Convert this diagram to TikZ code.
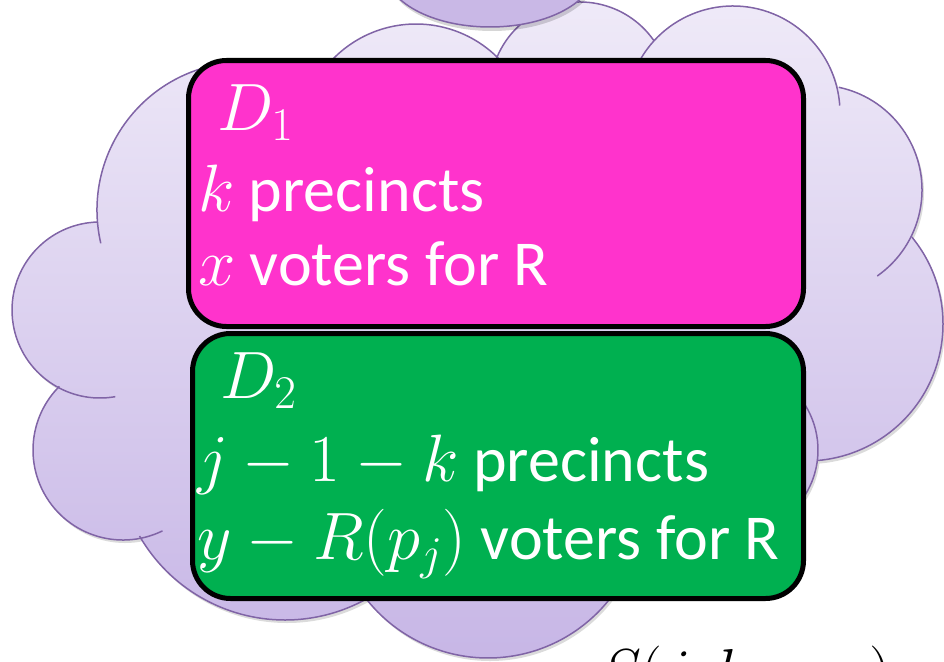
\RequirePackage{fix-cm}
\documentclass[tikz,border=0pt]{standalone}
\usepackage{fontspec}
\setmainfont{Carlito}
\definecolor{pinkfill}{HTML}{FF33CC}
\definecolor{greenfill}{HTML}{00B050}
\definecolor{cloudedge}{RGB}{128,100,166}
\definecolor{cloudtop}{RGB}{239,234,248}
\definecolor{cloudbot}{RGB}{199,182,230}
\definecolor{blobfill}{RGB}{201,184,230}
\newcommand\mth[1]{{\fontsize{67}{76}\selectfont$#1$}}
\newcommand\mthb[1]{{\fontsize{62}{70}\selectfont$#1$}}
\begin{document}
\begin{tikzpicture}[x=1pt,y=-1pt,
  cloudline/.style={draw=cloudedge, line width=1.5pt},
  dbox/.style={draw=black, line width=5pt, rounded corners=38pt, inner sep=0pt, outer sep=0pt},
  txt/.style={text=white, font=\fontsize{64}{76}\selectfont, inner sep=0pt, outer sep=0pt, anchor=base west}]
\path[use as bounding box] (0,0) rectangle (944,661);
\clip (0,0) rectangle (944,661);
\def\cloudlist{245/210/148, 100/310/88, 123/450/90, 285/452/168, 488/503/155, 733/450/85, 806/324/137, 817/190/105, 733/113/107, 580/92/90, 416/140/116, 496/330/250}
% shadow
\fill[black, opacity=0.14, xshift=2pt, yshift=-3pt] foreach \x/\y/\r in \cloudlist {(\x,\y) circle[radius=\r]};
% cloud body
\begin{scope}
\clip foreach \x/\y/\r in \cloudlist {(\x,\y) circle[radius=\r]};
\shade[top color=cloudtop, bottom color=cloudbot] (0,0) rectangle (944,661);
\end{scope}
% cloud outline arcs
\draw[cloudline] (245,210) ++(167:148) arc[start angle=167, end angle=256, radius=148];
\draw[cloudline] (100,310) ++(80:88) arc[start angle=80, end angle=268, radius=88];
\draw[cloudline] (123,450) ++(64:90) arc[start angle=64, end angle=225, radius=90];
\draw[cloudline] (285,452) ++(150:168) arc[start angle=150, end angle=55, radius=168];
\draw[cloudline] (488,503) ++(145:155) arc[start angle=145, end angle=35, radius=155];
\draw[cloudline] (733,450) ++(-40:85) arc[start angle=-40, end angle=60, radius=85];
\draw[cloudline] (806,324) ++(-39.4:137) arc[start angle=-39.4, end angle=85.4, radius=137];
\draw[cloudline] (817,190) ++(-78:105) arc[start angle=-78, end angle=55, radius=105];
\draw[cloudline] (733,113) ++(-152:107) arc[start angle=-152, end angle=-4, radius=107];
\draw[cloudline] (580,92) ++(-160:90) arc[start angle=-160, end angle=-34.7, radius=90];
\draw[cloudline] (416,140) ++(-138:116) arc[start angle=-138, end angle=-44, radius=116];
% top blob
\fill[black, opacity=0.16, xshift=2pt, yshift=-4pt] (490,-30) ellipse[x radius=105, y radius=57];
\fill[blobfill] (490,-30) ellipse[x radius=105, y radius=57];
\draw[cloudline] (490,-30) ellipse[x radius=105, y radius=57];
% boxes
\node[dbox, fill=pinkfill, minimum width=615pt, minimum height=266pt] (b1) at (496,193.5) {};
\node[dbox, fill=greenfill, minimum width=611pt, minimum height=265pt] (b2) at (498,466) {};
% texts
\node[txt] (d1) at (217,130) {\mth{D_1}};
\node[txt] (l1) at (198,211) {\mth{k} precincts};
\node[txt] (l2) at (198,285) {\mth{x} voters for R};
\node[txt] (d2) at (220,398) {\mth{D_2}};
\node[txt] (l3) at (197,481) {\mth{j-1-k} precincts};
\node[txt] (l4) at (197,559) {\mth{y-R(p_j)} voters for R};
\node[txt, text=black] (s) at (600,692) {\mthb{S(j,k,x,y)}};
\end{tikzpicture}
\end{document}
